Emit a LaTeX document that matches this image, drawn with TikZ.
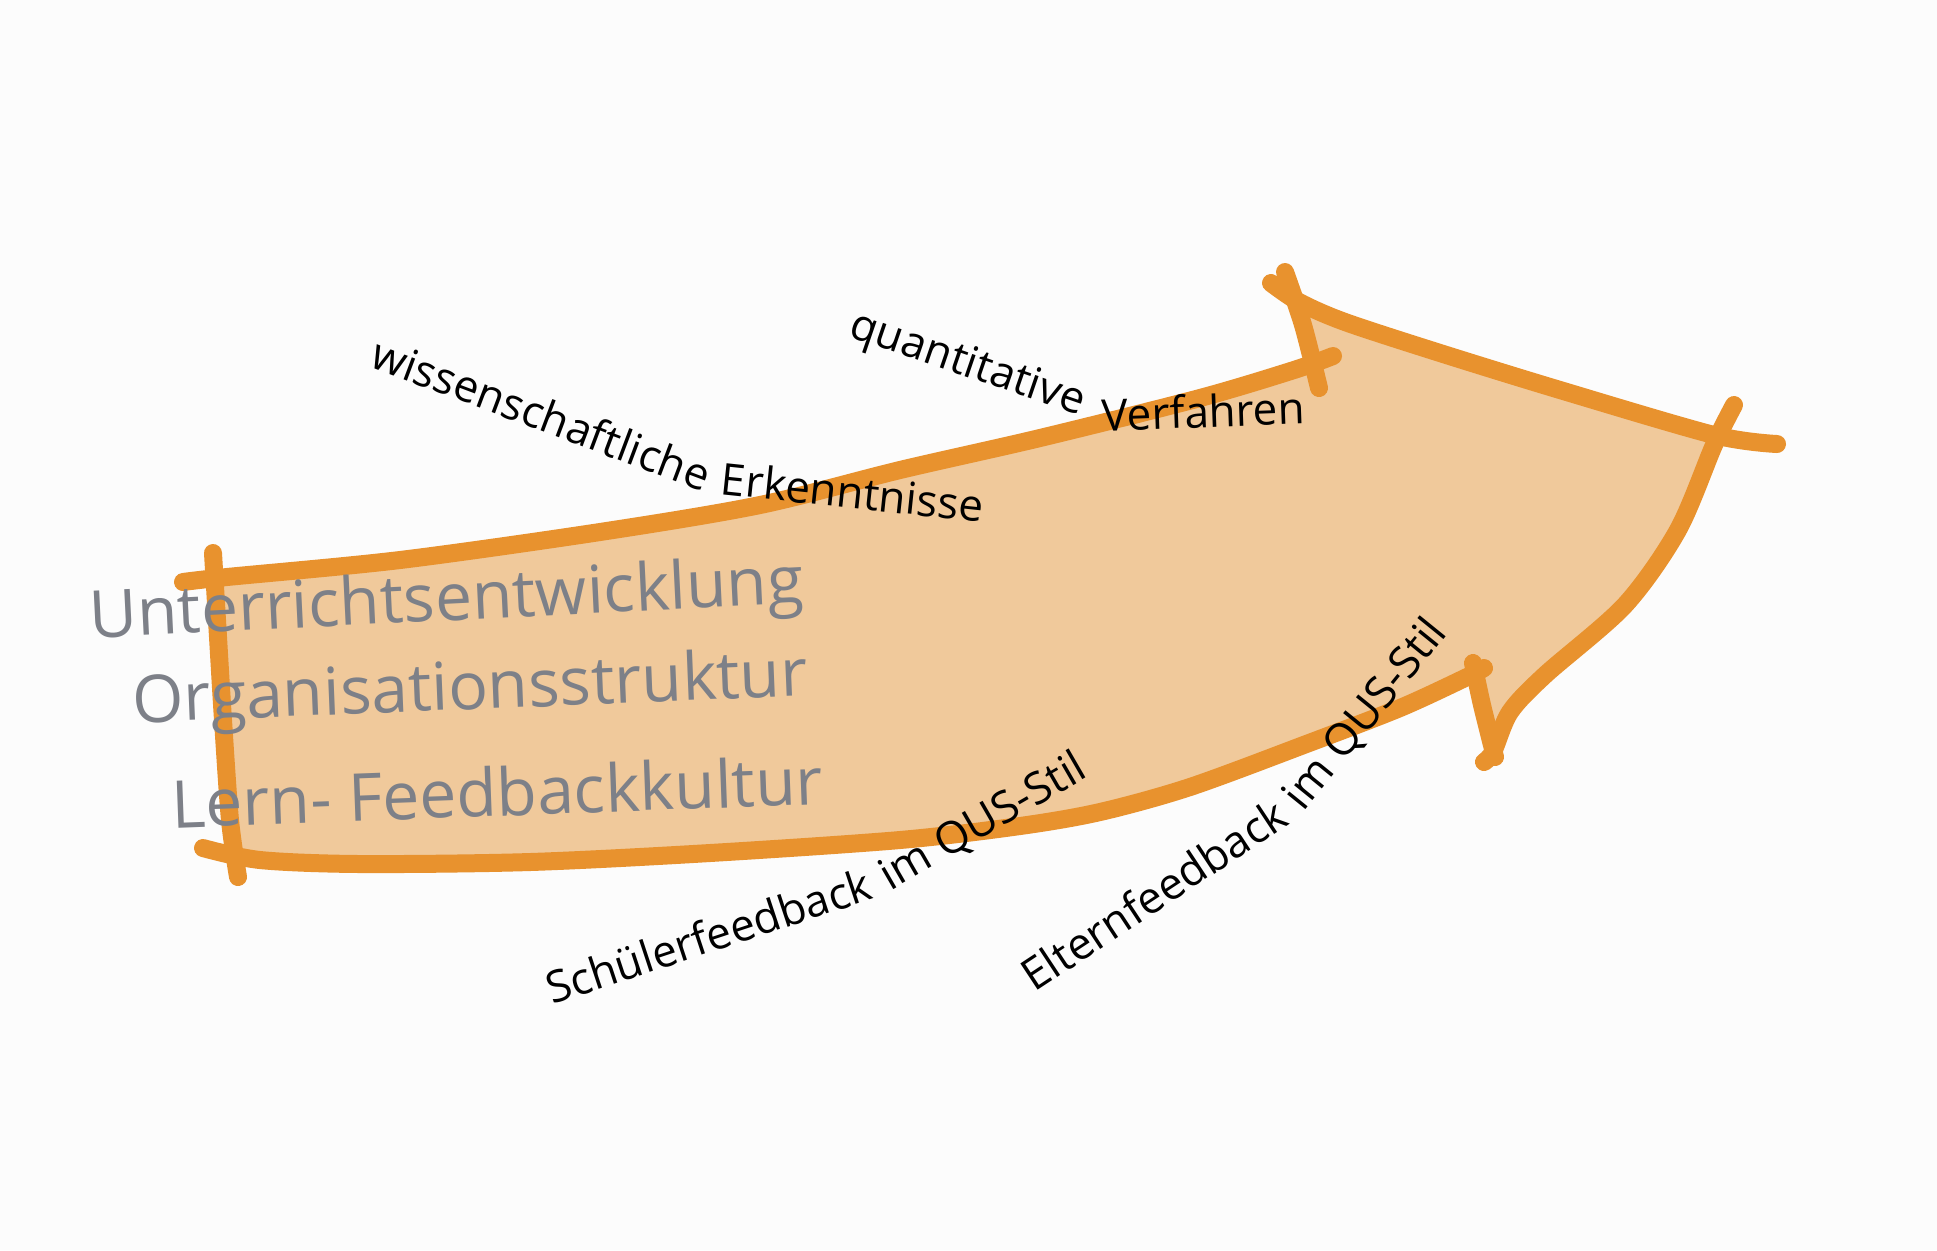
\documentclass[tikz,border=0pt]{standalone}
\usepackage{fontspec}
\setmainfont{Open Sans}
\definecolor{bgcol}{HTML}{FCFCFC}
\definecolor{arrowfill}{HTML}{F0C99B}
\definecolor{orangeline}{HTML}{E8922E}
\definecolor{graytxt}{HTML}{7D8088}
\begin{document}
\begin{tikzpicture}[x=0.5pt,y=-0.5pt,
  edge/.style={draw=orangeline, line width=9pt, line cap=round, line join=round},
  graytext/.style={text=graytxt, font=\fontsize{33}{40}\selectfont, inner sep=0pt, anchor=base west},
  blacktext/.style={text=black, font=\fontsize{22}{26}\selectfont, inner sep=0pt, anchor=base west}]
\fill[bgcol] (0,0) rectangle (1937,1250);
\useasboundingbox (0,0) rectangle (1937,1250);
% body fill
\fill[arrowfill] plot[smooth] coordinates {(215,577) (400,560) (600,532) (760,505) (900,470) (1040,438) (1200,398) (1318,364)}
  -- (1293,300)
  -- plot[smooth] coordinates {(1299,302) (1345,322) (1440,353) (1560,390) (1716,436)}
  -- plot[smooth] coordinates {(1716,440) (1678,530) (1625,605) (1545,675) (1510,712) (1492,752)}
  -- (1468,676)
  -- plot[smooth] coordinates {(1465,678) (1400,708) (1309,743) (1190,787) (1100,812) (1020,826) (900,840) (710,853) (530,862) (360,864) (232,858)}
  -- plot[smooth] coordinates {(230,820) (223,720) (217,620) (215,577)} -- cycle;
% outline strokes
\draw[edge] plot[smooth] coordinates {(213,553) (217,620) (223,720) (230,820) (238,877)};
\draw[edge] plot[smooth] coordinates {(183,582) (227,577) (400,560) (600,532) (760,505) (900,470) (1040,438) (1200,398) (1294,370) (1333,356)};
\draw[edge] plot[smooth] coordinates {(1285,272) (1303,325) (1319,388)};
\draw[edge] plot[smooth] coordinates {(1271,283) (1299,302) (1345,322) (1440,353) (1560,390) (1714,435) (1777,444)};
\draw[edge] plot[smooth] coordinates {(1734,405) (1714,445) (1678,530) (1625,605) (1545,675) (1510,712) (1493,752) (1484,762)};
\draw[edge] plot[smooth] coordinates {(1473,663) (1482,705) (1495,757)};
\draw[edge] plot[smooth] coordinates {(1484,668) (1465,678) (1400,708) (1309,743) (1190,787) (1100,812) (1020,826) (900,840) (710,853) (530,862) (360,864) (260,860) (203,848)};
% gray texts
\node[graytext, rotate=2.8] (t1) at (90,638) {Unterrichtsentwicklung};
\node[graytext, rotate=2.3] (t2) at (133,723) {Organisationsstruktur};
\node[graytext, rotate=2.1] (t3) at (172,828) {Lern- Feedbackkultur};
% black labels
\node[blacktext, rotate=-20.6] (w1) at (368,366) {wissenschaftliche};
\path (w1.base east) ++(8:16) node[blacktext, rotate=-6] (w2) {Erkenntnisse};
\node[blacktext, rotate=-18.9] (q1) at (847,336) {quantitative};
\node[blacktext, rotate=2] (q2) at (1102,431) {Verfahren};
\node[blacktext, rotate=18.3] (s1) at (552,1005) {Schülerfeedback};
\path (s1.base east) ++(-24:16) node[blacktext, rotate=30] (s2) {im QUS-Stil};
\node[blacktext, rotate=33.4] (e1) at (1034,993) {Elternfeedback};
\path (e1.base east) ++(-42:16) node[blacktext, rotate=51] (e2) {im QUS-Stil};
\end{tikzpicture}
\end{document}
